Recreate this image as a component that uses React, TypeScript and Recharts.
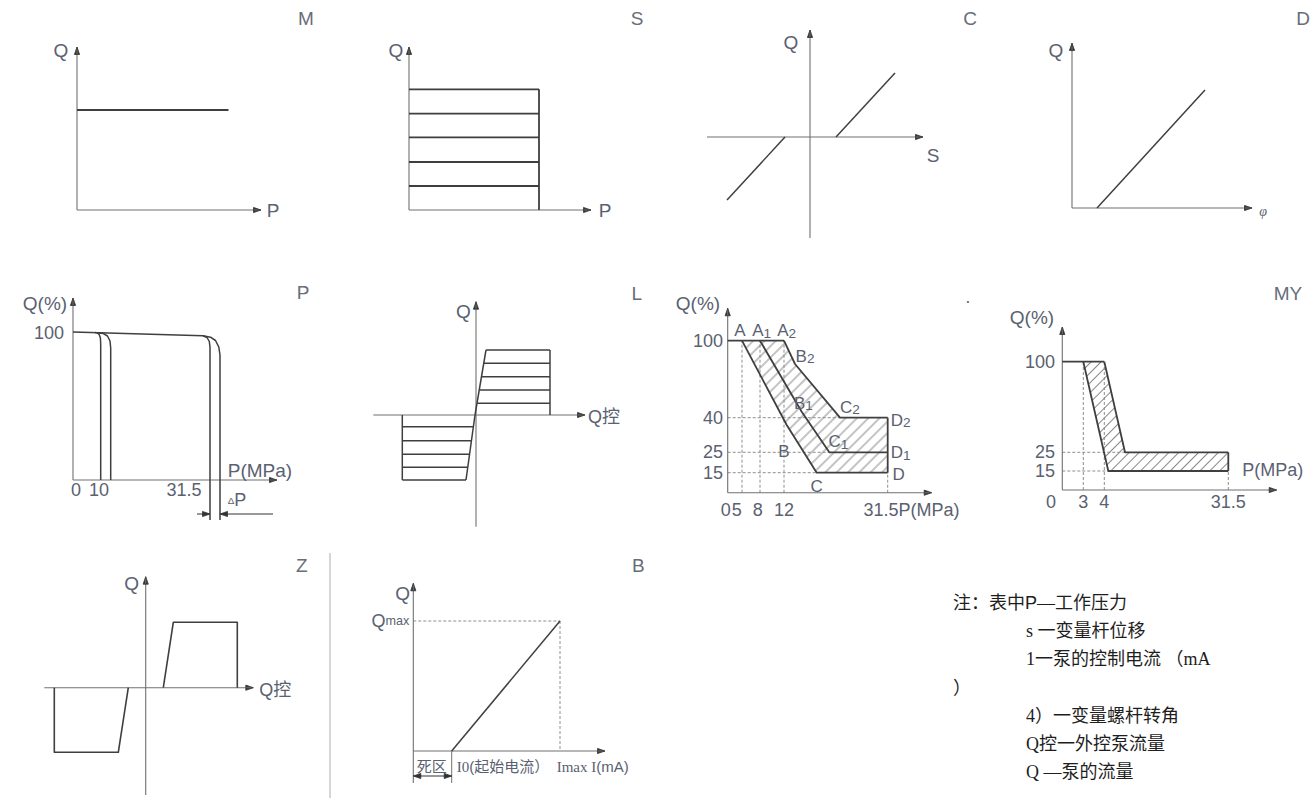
import React from "react";
import { ComposedChart, Line, Area, XAxis, YAxis, ReferenceDot } from "recharts";

type XY = [number, number];
type Lbl = {
  t: string;
  x: number;
  y: number;
  a?: "start" | "middle" | "end";
  k?: "title" | "axis" | "tick" | "pt" | "small" | "phi";
  sub?: string;
  tail?: string;
  pre?: string;
  ser?: string;
};

// schematic units: 0,0 is each panel's axis origin, y grows upward

// M
const mAxes: XY[][] = [[[0, 0], [0, 163]], [[0, 0], [184, 0]]];
const mCurves: XY[][] = [[[0, 100], [151.5, 100]]];
const mLabels: Lbl[] = [
  { t: "M", x: 229, y: 192, k: "title" },
  { t: "Q", x: -16, y: 160, k: "axis" },
  { t: "P", x: 196, y: 0, k: "axis" },
];

// S
const sLevels = [120.7, 96.3, 72.7, 48, 24];
const sRight = 130;
const sAxes: XY[][] = [[[0, 0], [0, 163]], [[0, 0], [182, 0]]];
const sLabels: Lbl[] = [
  { t: "S", x: 228, y: 192, k: "title" },
  { t: "Q", x: -13, y: 160, k: "axis" },
  { t: "P", x: 196, y: 0, k: "axis" },
];

// C
const cAxes: XY[][] = [[[0, -101], [0, 107]], [[-103, 0], [113, 0]]];
const cCurves: XY[][] = [[[-83, -63], [-25, 0]], [[26, 0], [85, 64]]];
const cLabels: Lbl[] = [
  { t: "C", x: 160, y: 119, k: "title" },
  { t: "Q", x: -19, y: 95, k: "axis" },
  { t: "S", x: 123, y: -18, k: "axis" },
];

// D
const dAxes: XY[][] = [[[0, 0], [0, 165]], [[0, 0], [180, 0]]];
const dCurves: XY[][] = [[[25, 0], [133, 118]]];
const dLabels: Lbl[] = [
  { t: "D", x: 231, y: 190, k: "title" },
  { t: "Q", x: -16, y: 158, k: "axis" },
  { t: "", ser: "φ", x: 191, y: -3, k: "phi" },
];

// P
const pAxes: XY[][] = [[[0, 0], [0, 182]], [[0, 0], [204, 0]]];
const pCurves: XY[][] = [
  [[0, 148], [130, 144.2], [134, 142.5], [136.3, 138.5], [137, 133], [137, -40]],
  [[22, 147.4], [24.5, 147], [26.3, 145.3], [27.4, 142], [27.7, 136], [27.7, 0]],
  [[24, 147.3], [30, 146.6], [34.5, 144], [37, 139], [37.7, 132], [37.7, 0]],
  [[130, 144.2], [137.5, 142.8], [142.5, 139.5], [145.8, 133], [147, 125], [147, -40]],
];
const pArrows: XY[][] = [[[124, -34], [137, -34]], [[200, -34], [147, -34]]];
const pLabels: Lbl[] = [
  { t: "P", x: 230, y: 188, k: "title" },
  { t: "Q(%)", x: -28, y: 177, k: "axis" },
  { t: "100", x: -9, y: 147, a: "end" },
  { t: "0", x: 3, y: -10 },
  { t: "10", x: 26, y: -10 },
  { t: "31.5", x: 111, y: -10 },
  { t: "P(MPa)", x: 187, y: 10, k: "axis" },
  { t: "P", pre: "Δ", x: 164, y: -20 },
];

// L
const lUpY = [65, 51.7, 38.3, 25, 11.7];
const lUpX = [10, 7.7, 5.7, 3.3, 1.3];
const lRight = 74;
const lLowY = [-11.7, -25.7, -39.3, -52.3, -65];
const lLowX = [-2.7, -4.3, -6.3, -8.3, -10];
const lLeft = -73.7;
const lAxes: XY[][] = [[[0, -111.7], [0, 113.3]], [[-102.7, 0], [109, 0]]];
const lEdges: XY[][] = [
  [[-1, 0], [10, 65]],
  [[lRight, 0], [lRight, 65]],
  [[-1, 0], [-10, -65]],
  [[lLeft, 0], [lLeft, -65]],
];
const lLabels: Lbl[] = [
  { t: "L", x: 160.7, y: 121.7, k: "title" },
  { t: "Q", x: -12.7, y: 103.3, k: "axis" },
  { t: "Q控", x: 112, y: -2, a: "start", k: "tick" },
];

// pressure-cut band panel
const bandAxes: XY[][] = [[[0, 0], [0, 184.4]], [[0, 0], [204, 0]]];
const bandCurves: XY[][] = [
  [[0, 152], [56.3, 152]],
  [[14.3, 152], [59, 67.7], [89, 20], [160, 20]],
  [[32.3, 152], [74, 81], [101.6, 40.4], [160, 40.4]],
  [[56.3, 152], [67.3, 128.7], [112.3, 75], [160, 75]],
  [[160, 75], [160, 20]],
];
const bandDashed: XY[][] = [
  [[14.3, 0], [14.3, 152]],
  [[32.3, 0], [32.3, 152]],
  [[56.3, 0], [56.3, 152]],
  [[160, 0], [160, 20]],
  [[0, 75], [112.3, 75]],
  [[0, 40.4], [101.6, 40.4]],
  [[0, 20], [89, 20]],
];
const bandHatch: XY[] = [
  [14.3, 152], [56.3, 152], [67.3, 128.7], [112.3, 75], [160, 75],
  [160, 20], [89, 20], [59, 67.7], [14.3, 152],
];
const bandLabels: Lbl[] = [
  { t: ".", x: 240.3, y: 196, k: "title" },
  { t: "Q(%)", x: -29.7, y: 189.7, k: "axis" },
  { t: "100", x: -4.7, y: 152, a: "end" },
  { t: "40", x: -4.7, y: 75, a: "end" },
  { t: "25", x: -4.7, y: 40.4, a: "end" },
  { t: "15", x: -4.7, y: 20, a: "end" },
  { t: "0", x: -2, y: -17.3 },
  { t: "5", x: 9, y: -17.3 },
  { t: "8", x: 30, y: -17.3 },
  { t: "12", x: 56.3, y: -17.3 },
  { t: "31.5P(MPa)", x: 135.7, y: -17.3, a: "start" },
  { t: "A", x: 12.3, y: 162, k: "pt" },
  { t: "A", sub: "1", x: 34, y: 162, k: "pt" },
  { t: "A", sub: "2", x: 59, y: 162, k: "pt" },
  { t: "B", sub: "2", x: 77.3, y: 136.7, k: "pt" },
  { t: "B", sub: "1", x: 75.7, y: 89.4, k: "pt" },
  { t: "C", sub: "2", x: 122.3, y: 85.4, k: "pt" },
  { t: "C", sub: "1", x: 110.7, y: 51, k: "pt" },
  { t: "B", x: 56.3, y: 41, k: "pt" },
  { t: "C", x: 89, y: 6, k: "pt" },
  { t: "D", sub: "2", x: 173, y: 72.7, k: "pt" },
  { t: "D", sub: "1", x: 173, y: 40, k: "pt" },
  { t: "D", x: 171, y: 18.7, k: "pt" },
];

// MY
const myAxes: XY[][] = [[[0, 0], [0, 163]], [[0, 0], [214.4, 0]]];
const myCurves: XY[][] = [
  [[0, 128.3], [42, 128.3]],
  [[21, 128.3], [46, 19], [166, 19]],
  [[42, 128.3], [62.7, 37.7], [166, 37.7]],
  [[166, 37.7], [166, 19]],
];
const myDashed: XY[][] = [
  [[21, 0], [21, 128.3]],
  [[42, 0], [42, 128.3]],
  [[0, 37.7], [62.7, 37.7]],
  [[0, 19], [46, 19]],
  [[166, 0], [166, 19]],
];
const myHatch: XY[] = [
  [21, 128.3], [42, 128.3], [62.7, 37.7], [166, 37.7], [166, 19], [46, 19], [21, 128.3],
];
const myLabels: Lbl[] = [
  { t: "MY", x: 225.7, y: 197, k: "title" },
  { t: "Q(%)", x: -30.3, y: 173, k: "axis" },
  { t: "100", x: -7.3, y: 128.3, a: "end" },
  { t: "25", x: -7.3, y: 37.7, a: "end" },
  { t: "15", x: -7.3, y: 19, a: "end" },
  { t: "0", x: -11.3, y: -11.7 },
  { t: "3", x: 21, y: -11.7 },
  { t: "4", x: 42, y: -11.7 },
  { t: "31.5", x: 166, y: -11.7 },
  { t: "P(MPa)", x: 180, y: 20, a: "start" },
];

// Z
const zAxes: XY[][] = [[[0, -107.3], [0, 111]], [[-101.4, 0], [107.6, 0]]];
const zCurves: XY[][] = [
  [[17.6, 0], [27.6, 65.4], [91.6, 65.4], [91.6, 0]],
  [[-91.4, 0], [-91.4, -64.6], [-27.4, -64.6], [-17.4, 0]],
];
const zSeparator: XY[][] = [[[184.3, 134.7], [184.3, -110.3]]];
const zLabels: Lbl[] = [
  { t: "Z", x: 156, y: 122.7, k: "title" },
  { t: "Q", x: -14, y: 104.4, k: "axis" },
  { t: "Q控", x: 113.6, y: -2.3, a: "start", k: "tick" },
];

// B
const bAxes: XY[][] = [[[0, -32], [0, 167.7]], [[0, 0], [191.7, 0]]];
const bCurves: XY[][] = [[[38.4, 0], [146.7, 130]]];
const bDashed: XY[][] = [[[0, 130], [146.7, 130]], [[146.7, 130], [146.7, 0]]];
const bThin: XY[][] = [[[38.4, 0], [38.4, -32]]];
const bDeadZone: XY[][] = [[[0, -25], [38.4, -25]]];
const bLabels: Lbl[] = [
  { t: "B", x: 225, y: 186, k: "title" },
  { t: "Q", x: -10.6, y: 157.7, k: "axis" },
  { t: "Q", tail: "max", x: -4, y: 130, a: "end" },
  { t: "死区", x: 18.4, y: -15.7, k: "small" },
  { t: "(起始电流）", ser: "I0", x: 43.4, y: -15.7, a: "start", k: "small" },
  { t: "", ser: "Imax", x: 143.4, y: -15.7, a: "start", k: "small" },
  { t: "(mA)", ser: "I", x: 178, y: -15.7, a: "start", k: "small" },
];

const notes = [
  { t: "注：表中P—工作压力", indent: false },
  { t: "s 一变量杆位移", indent: true },
  { t: "1一泵的控制电流 （mA", indent: true },
  { t: "）", indent: false },
  { t: "4）一变量螺杆转角", indent: true },
  { t: "Q控一外控泵流量", indent: true },
  { t: "Q —泵的流量", indent: true },
];

const AXIS = "#707070";
const CURVE = "#3f3f3f";
const DASH = "#8e8e8e";
const HEAD = "#333333";
const TEXT = "#5a6170";
const TITLE = "#676d79";
const SANS = "'Liberation Sans', Arial, 'Noto Sans CJK SC', sans-serif";
const SERIF = "'Liberation Serif', 'Times New Roman', 'Noto Sans CJK SC', serif";
const FS = { title: 19, axis: 19, tick: 18, pt: 17, small: 15, phi: 14 };

const pts = (d: XY[]) => d.map(([x, y]) => ({ x, y }));

function labelShape(lb: Lbl) {
  const fs = FS[lb.k ?? "tick"];
  const color = lb.k === "title" ? TITLE : TEXT;
  return (p: any) => (
    <text
      x={p.cx}
      y={p.cy}
      textAnchor={lb.a ?? "middle"}
      dominantBaseline="central"
      fontSize={fs}
      fill={color}
      fontFamily={SANS}
    >
      {lb.pre ? <tspan fontSize={fs * 0.55}>{lb.pre}</tspan> : null}
      {lb.ser ? (
        <tspan fontFamily={SERIF} fontStyle={lb.k === "phi" ? "italic" : "normal"}>
          {lb.ser}
        </tspan>
      ) : null}
      {lb.t}
      {lb.sub ? (
        <tspan fontSize={fs * 0.8} dy={2}>
          {lb.sub}
        </tspan>
      ) : null}
      {lb.tail ? <tspan fontSize={fs * 0.7}>{lb.tail}</tspan> : null}
    </text>
  );
}

// triangle for an arrow head at `tip`, pointing away from `from` (both axes run 1px per unit)
function headPolygon(tip: XY, from: XY): XY[] {
  const dx = tip[0] - from[0];
  const dy = tip[1] - from[1];
  const n = Math.hypot(dx, dy) || 1;
  const ux = dx / n;
  const uy = dy / n;
  const len = 7.5;
  const half = 2.6;
  const bx = tip[0] - ux * len;
  const by = tip[1] - uy * len;
  return [tip, [bx - uy * half, by + ux * half], [bx + uy * half, by - ux * half], tip];
}

type PanelProps = {
  id: string;
  left: number;
  top: number;
  width: number;
  height: number;
  ox: number;
  oy: number;
  axes?: XY[][];
  curves?: XY[][];
  dashed?: XY[][];
  thin?: XY[][];
  arrows?: XY[][];
  both?: XY[][];
  faint?: XY[][];
  hatch?: XY[];
  gap?: number;
  labels?: Lbl[];
  cw?: number;
};

function Panel(props: PanelProps) {
  const { id, left, top, width, height, ox, oy, labels = [], cw = 1.6, gap = 8 } = props;
  const xd = [left - ox, left + width - ox];
  const yd = [oy - top - height, oy - top];
  const seg = (key: string, d: XY[], stroke: string, w: number, extra: any = {}) => (
    <Line
      key={key}
      data={pts(d)}
      dataKey="y"
      type="linear"
      dot={false}
      activeDot={false}
      isAnimationActive={false}
      stroke={stroke}
      strokeWidth={w}
      strokeLinejoin="round"
      {...extra}
    />
  );
  const poly = (key: string, d: XY[], fill: string) => (
    <Area
      key={key}
      data={pts(d)}
      dataKey="y"
      type="linear"
      stroke="none"
      fill={fill}
      fillOpacity={1}
      dot={false}
      activeDot={false}
      isAnimationActive={false}
    />
  );
  // arrow heads: end of every axis / arrow line, plus the start of double arrows
  const heads: XY[][] = [];
  [...(props.axes ?? []), ...(props.arrows ?? []), ...(props.both ?? [])].forEach((d) => {
    heads.push(headPolygon(d[d.length - 1], d[d.length - 2]));
  });
  (props.both ?? []).forEach((d) => heads.push(headPolygon(d[0], d[1])));
  return (
    <div style={{ position: "absolute", left, top, width, height }}>
      <ComposedChart width={width} height={height} margin={{ top: 0, right: 0, bottom: 0, left: 0 }}>
        <defs>
          <pattern id={`${id}-h`} patternUnits="userSpaceOnUse" width={gap} height={gap} patternTransform="rotate(45)">
            <line x1={gap / 2} y1="0" x2={gap / 2} y2={gap} stroke="#7a7a7a" strokeWidth="0.9" />
          </pattern>
        </defs>
        <XAxis type="number" dataKey="x" domain={xd} hide />
        <YAxis type="number" domain={yd} hide />
        {props.hatch ? poly("hatch", props.hatch, `url(#${id}-h)`) : null}
        {heads.map((h, i) => poly(`hf${i}`, h, HEAD))}
        {(props.faint ?? []).map((d, i) => seg(`f${i}`, d, "#c9c9c9", 1.5))}
        {(props.dashed ?? []).map((d, i) => seg(`d${i}`, d, DASH, 1, { strokeDasharray: "3 2" }))}
        {(props.thin ?? []).map((d, i) => seg(`t${i}`, d, AXIS, 1))}
        {(props.axes ?? []).map((d, i) => seg(`a${i}`, d, AXIS, 1.1))}
        {(props.curves ?? []).map((d, i) => seg(`c${i}`, d, CURVE, cw))}
        {(props.arrows ?? []).map((d, i) => seg(`r${i}`, d, HEAD, 1))}
        {(props.both ?? []).map((d, i) => seg(`b${i}`, d, HEAD, 1.2))}
        {heads.map((h, i) => seg(`ho${i}`, h, HEAD, 0.8, { strokeLinejoin: "miter" }))}
        {labels.map((lb, i) => (
          <ReferenceDot key={`l${i}`} x={lb.x} y={lb.y} r={0} ifOverflow="visible" shape={labelShape(lb)} />
        ))}
      </ComposedChart>
    </div>
  );
}

function NoteLine({ t }: { t: string }) {
  const parts = t.split("P");
  return (
    <>
      {parts.map((s, i) => (
        <React.Fragment key={i}>
          {i > 0 ? <span style={{ fontFamily: SANS }}>P</span> : null}
          {s}
        </React.Fragment>
      ))}
    </>
  );
}

export default function App() {
  const sCurves: XY[][] = [
    ...sLevels.map((l): XY[] => [[0, l], [sRight, l]]),
    [[sRight, 0], [sRight, sLevels[0]]],
  ];
  const lRows: XY[][] = [
    ...lUpY.map((y, i): XY[] => [[lUpX[i], y], [lRight, y]]),
    ...lLowY.map((y, i): XY[] => [[lLeft, y], [lLowX[i], y]]),
  ];
  return (
    <div style={{ position: "absolute", left: 0, top: 0, width: 1310, height: 798, background: "#ffffff", overflow: "hidden" }}>
      <Panel id="m" left={20} top={0} width={310} height={250} ox={77} oy={210} axes={mAxes} curves={mCurves} labels={mLabels} cw={2} />
      <Panel id="s" left={340} top={0} width={320} height={250} ox={409} oy={210} axes={sAxes} curves={sCurves} labels={sLabels} cw={1.8} />
      <Panel id="c" left={670} top={0} width={330} height={250} ox={810} oy={137} axes={cAxes} curves={cCurves} labels={cLabels} cw={1.5} />
      <Panel id="d" left={1000} top={0} width={310} height={250} ox={1072} oy={208} axes={dAxes} curves={dCurves} labels={dLabels} cw={1.5} />
      <Panel id="p" left={0} top={270} width={330} height={265} ox={73} oy={480} axes={pAxes} curves={pCurves} arrows={pArrows} labels={pLabels} cw={1.5} />
      <Panel id="l" left={340} top={270} width={320} height={265} ox={476} oy={415} axes={lAxes} curves={[...lEdges, ...lRows]} labels={lLabels} cw={1.5} />
      <Panel id="band" left={660} top={270} width={330} height={265} ox={727.7} oy={492.7} axes={bandAxes} curves={bandCurves} dashed={bandDashed} hatch={bandHatch} gap={8} labels={bandLabels} cw={1.8} />
      <Panel id="my" left={990} top={270} width={320} height={265} ox={1062.3} oy={490} axes={myAxes} curves={myCurves} dashed={myDashed} hatch={myHatch} gap={7} labels={myLabels} cw={1.8} />
      <Panel id="z" left={0} top={545} width={340} height={253} ox={145.7} oy={687.7} axes={zAxes} curves={zCurves} faint={zSeparator} labels={zLabels} cw={1.6} />
      <Panel id="b" left={340} top={545} width={320} height={253} ox={413.3} oy={751} axes={bAxes} curves={bCurves} dashed={bDashed} thin={bThin} both={bDeadZone} labels={bLabels} cw={1.5} />
      {notes.map((n, i) => (
        <div
          key={i}
          style={{
            position: "absolute",
            left: n.indent ? 1026 : 953,
            top: 591 + i * 28.2,
            height: 24,
            lineHeight: "24px",
            fontSize: 18,
            whiteSpace: "nowrap",
            color: "#1e1e1e",
            fontFamily: SERIF,
          }}
        >
          <NoteLine t={n.t} />
        </div>
      ))}
    </div>
  );
}
